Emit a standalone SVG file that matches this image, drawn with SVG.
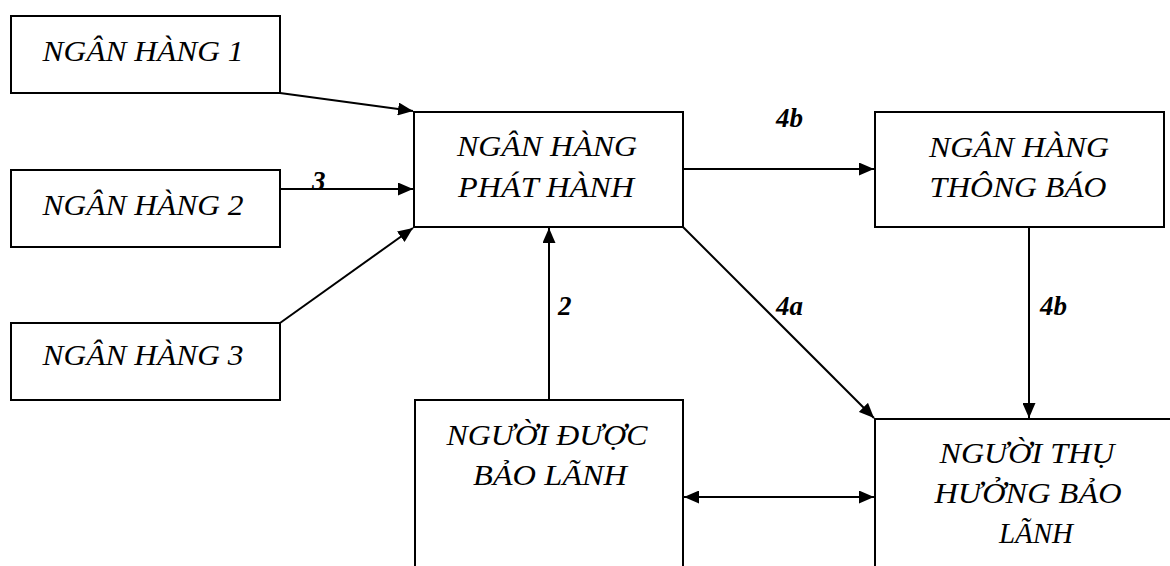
<svg xmlns="http://www.w3.org/2000/svg" width="1170" height="566" viewBox="0 0 1170 566">
  <defs>
    <marker id="arrow" viewBox="0 0 15 13" refX="15" refY="6.5" markerWidth="15" markerHeight="13" markerUnits="userSpaceOnUse" orient="auto">
      <path d="M0,0 L15,6.5 L0,13 Z" fill="#000"/>
    </marker>
    <marker id="arrowStart" viewBox="0 0 15 13" refX="0" refY="6.5" markerWidth="15" markerHeight="13" markerUnits="userSpaceOnUse" orient="auto">
      <path d="M15,0 L0,6.5 L15,13 Z" fill="#000"/>
    </marker>
  </defs>
  <style>
    rect { fill: #fff; stroke: #000; stroke-width: 2; }
    .t { font-family: "Liberation Serif", "Times New Roman", serif; font-style: italic; font-size: 29px; fill: #000; text-anchor: middle; }
    .lbl { font-family: "Liberation Serif", "Times New Roman", serif; font-style: italic; font-weight: bold; font-size: 27px; fill: #000; }
    .c { stroke: #000; stroke-width: 2; fill: none; }
  </style>
  <rect x="0" y="0" width="1170" height="566" style="stroke:none"/>

  <g id="ngan-hang-1">
    <rect x="11" y="16" width="269" height="77"/>
    <text class="t" x="143" y="61" textLength="201" lengthAdjust="spacingAndGlyphs">NGÂN HÀNG 1</text>
  </g>
  <g id="ngan-hang-2">
    <rect x="11" y="170" width="269" height="77"/>
    <text class="t" x="143" y="215" textLength="201" lengthAdjust="spacingAndGlyphs">NGÂN HÀNG 2</text>
  </g>
  <g id="ngan-hang-3">
    <rect x="11" y="323" width="269" height="77"/>
    <text class="t" x="143" y="365" textLength="201" lengthAdjust="spacingAndGlyphs">NGÂN HÀNG 3</text>
  </g>
  <g id="ngan-hang-phat-hanh">
    <rect x="414" y="112" width="269" height="115"/>
    <text class="t" x="547" y="156" textLength="180" lengthAdjust="spacingAndGlyphs">NGÂN HÀNG</text>
    <text class="t" x="546" y="197" textLength="176" lengthAdjust="spacingAndGlyphs">PHÁT HÀNH</text>
  </g>
  <g id="ngan-hang-thong-bao">
    <rect x="875" y="112" width="289" height="115"/>
    <text class="t" x="1019" y="157" textLength="180" lengthAdjust="spacingAndGlyphs">NGÂN HÀNG</text>
    <text class="t" x="1018" y="197" textLength="177" lengthAdjust="spacingAndGlyphs">THÔNG BÁO</text>
  </g>
  <g id="nguoi-duoc-bao-lanh">
    <rect x="415" y="400" width="268" height="180"/>
    <text class="t" x="547" y="445" textLength="201" lengthAdjust="spacingAndGlyphs">NGƯỜI ĐƯỢC</text>
    <text class="t" x="550" y="485" textLength="154" lengthAdjust="spacingAndGlyphs">BẢO LÃNH</text>
  </g>
  <g id="nguoi-thu-huong">
    <rect x="875" y="419" width="310" height="160"/>
    <text class="t" x="1027" y="463" textLength="175" lengthAdjust="spacingAndGlyphs">NGƯỜI THỤ</text>
    <text class="t" x="1028" y="503" textLength="187" lengthAdjust="spacingAndGlyphs">HƯỞNG BẢO</text>
    <text class="t" x="1036" y="543">LÃNH</text>
  </g>

  <g id="connectors">
    <line class="c" x1="280" y1="93" x2="413" y2="111" marker-end="url(#arrow)"/>
    <line class="c" x1="280" y1="189" x2="413" y2="189" marker-end="url(#arrow)"/>
    <line class="c" x1="280" y1="323" x2="413" y2="228" marker-end="url(#arrow)"/>
    <line class="c" x1="683" y1="169" x2="874" y2="169" marker-end="url(#arrow)"/>
    <line class="c" x1="683" y1="227" x2="874" y2="418" marker-end="url(#arrow)"/>
    <line class="c" x1="549" y1="400" x2="549" y2="228" marker-end="url(#arrow)"/>
    <line class="c" x1="1029" y1="227" x2="1029" y2="418" marker-end="url(#arrow)"/>
    <line class="c" x1="684" y1="497" x2="874" y2="497" marker-start="url(#arrowStart)" marker-end="url(#arrow)"/>
    <text class="lbl" x="312" y="190">3</text>
    <text class="lbl" x="776" y="127">4b</text>
    <text class="lbl" x="558" y="315">2</text>
    <text class="lbl" x="776" y="315">4a</text>
    <text class="lbl" x="1040" y="315">4b</text>
  </g>
</svg>
